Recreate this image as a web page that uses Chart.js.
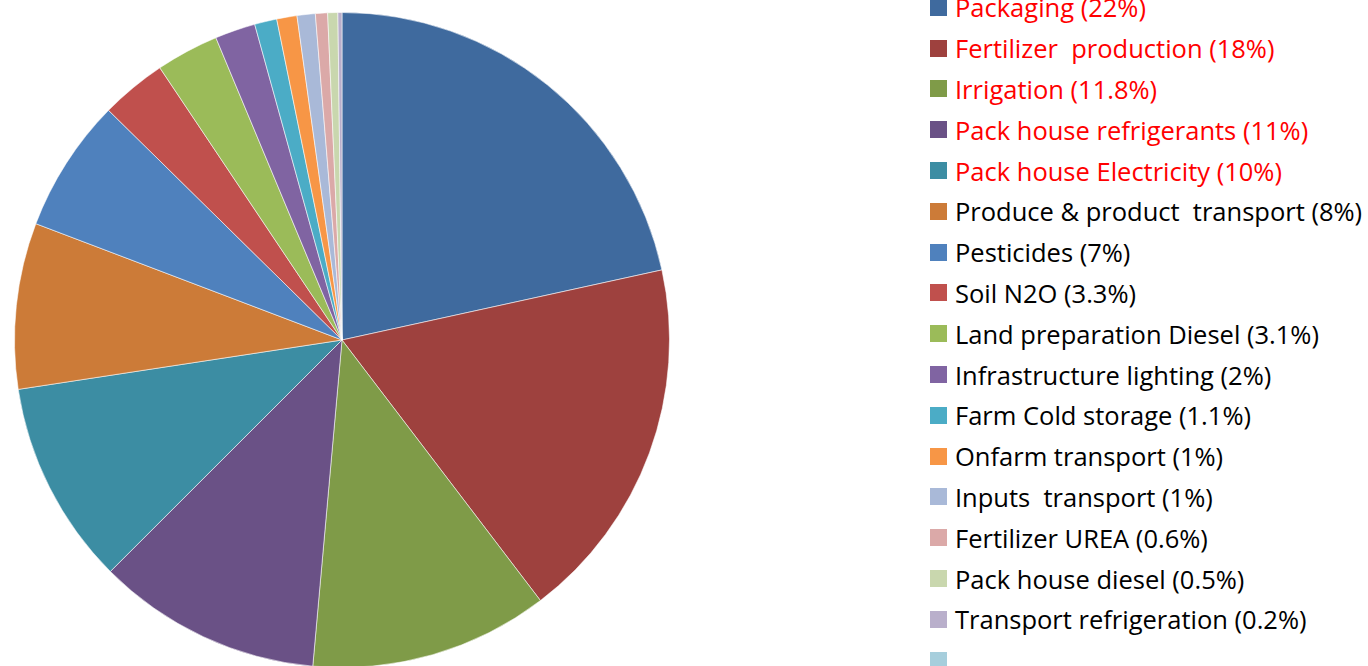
<!DOCTYPE html>
<html>
<head>
<meta charset="utf-8">
<script src="https://cdn.jsdelivr.net/npm/chart.js@4"></script>
<style>
  html, body { margin: 0; padding: 0; background: #fff; overflow: hidden; }
  body { width: 1368px; height: 666px; position: relative; }
  #wrap { position: absolute; left: 0; top: 0; width: 684px; height: 680px; }
  #leyenda { position: absolute; left: 930px; top: -13px; margin: 0; padding: 0; list-style: none;
             font-family: "Open Sans", Lato, sans-serif; font-size: 25.5px; }
  #leyenda li { height: 40.8px; display: flex; align-items: center; white-space: pre; }
  #leyenda .caja { width: 17px; height: 17px; margin-right: 8px; flex: none; }
</style>
</head>
<body>
<div id="wrap"><canvas id="myChart"></canvas></div>
<ul id="leyenda"></ul>

<script>
// textos de la leyenda
const categorias = [
  "Packaging (22%)",
  "Fertilizer  production (18%)",
  "Irrigation (11.8%)",
  "Pack house refrigerants (11%)",
  "Pack house Electricity (10%)",
  "Produce & product  transport (8%)",
  "Pesticides (7%)",
  "Soil N2O (3.3%)",
  "Land preparation Diesel (3.1%)",
  "Infrastructure lighting (2%)",
  "Farm Cold storage (1.1%)",
  "Onfarm transport (1%)",
  "Inputs  transport (1%)",
  "Fertilizer UREA (0.6%)",
  "Pack house diesel (0.5%)",
  "Transport refrigeration (0.2%)",
  ""
];
// tamaño de cada porcion
const valores = [21.6, 18.1, 11.8, 11.1, 10.1, 8.2, 6.6, 3.25, 3.1, 2, 1.1, 1, 0.9, 0.6, 0.5, 0.2, 0];
const colores = [
  "#3F6A9E", "#9E413E", "#7F9B48", "#6A5186", "#3C8DA3", "#CC7B38",
  "#4F81BD", "#C0504D", "#9BBB59", "#8064A2", "#4BACC6", "#F79646",
  "#A9B9D8", "#DBA9A8", "#C9D7AE", "#B9AFCB", "#A6CEDC"
];
// las primeras 5 van en rojo
const destacados = 5;

const ctx = document.getElementById("myChart");
const graficoTorta = new Chart(ctx, {
  type: "pie",
  data: {
    labels: categorias,
    datasets: [{
      data: valores,
      backgroundColor: colores,
      borderColor: "rgba(255,255,255,0.55)",
      borderWidth: 1,
      hoverOffset: 0
    }]
  },
  options: {
    responsive: true,
    maintainAspectRatio: false,
    animation: false,
    layout: { padding: { top: 12, bottom: 12, left: 0, right: 0 } },
    plugins: {
      legend: { display: false },
      tooltip: { enabled: false }
    }
  }
});

// leyenda en HTML a partir de los items del grafico
const ul = document.getElementById("leyenda");
const items = graficoTorta.options.plugins.legend.labels.generateLabels(graficoTorta);
items.forEach((item, i) => {
  const li = document.createElement("li");
  const caja = document.createElement("span");
  caja.className = "caja";
  caja.style.background = item.fillStyle;
  const txt = document.createElement("span");
  txt.textContent = item.text;
  txt.style.color = i < destacados ? "#FF0000" : "#000000";
  li.appendChild(caja);
  li.appendChild(txt);
  ul.appendChild(li);
});
</script>
</body>
</html>
